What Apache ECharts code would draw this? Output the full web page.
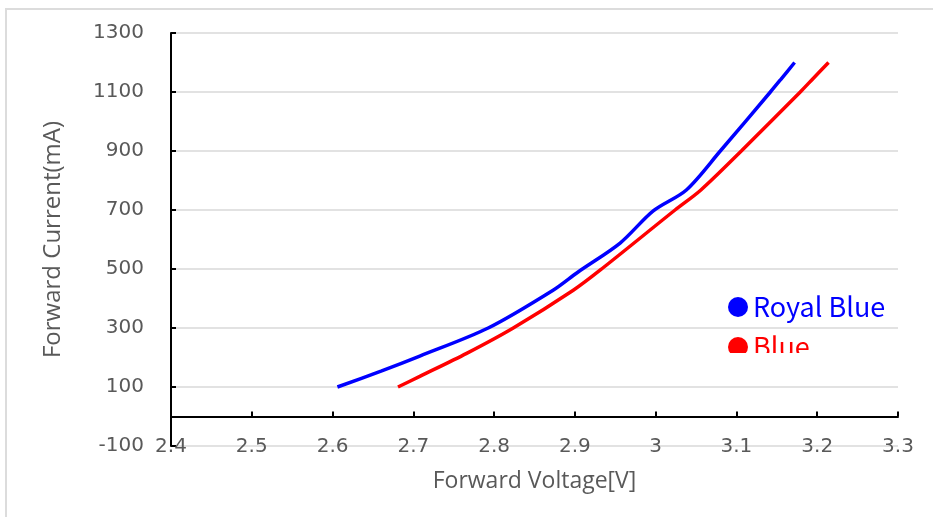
<!DOCTYPE html>
<html>
<head>
<meta charset="utf-8">
<script src="https://cdn.jsdelivr.net/npm/echarts@6/dist/echarts.min.js"></script>
<style>
html,body{margin:0;padding:0;background:#fff;overflow:hidden;}
#c{width:933px;height:517px;}
</style>
</head>
<body>
<div id="c"></div>
<script>
// Data
var royalBlueName = 'Royal Blue';
var blueName = 'Blue';
var royalBlue = [
  [2.606, 100], [2.66, 154], [2.708, 205], [2.7927, 300],
  [2.873, 428], [2.904, 490], [2.956, 588], [2.997, 697], [3.038, 768],
  [3.08, 900], [3.142, 1100], [3.155, 1143], [3.172, 1200]
];
var blue = [
  [2.681, 100], [2.708, 136], [2.766, 214], [2.8237, 300], [2.898, 428],
  [2.933, 500], [3.024, 700], [3.056, 768], [3.106, 900], [3.179, 1100],
  [3.195, 1146], [3.214, 1200]
];
var xMin = 2.4, xMax = 3.3, xStep = 0.1;
var yMin = -100, yMax = 1300, yStep = 200;
var xTitle = 'Forward Voltage[V]';
var yTitle = 'Forward Current(mA)';

var chart = echarts.init(document.getElementById('c'), null, {renderer: 'canvas'});
var tickFont = {fontFamily: 'DejaVu Sans', fontSize: 20, color: '#595959'};
chart.setOption({
  animation: false,
  backgroundColor: '#ffffff',
  grid: {left: 171, right: 35, top: 33, bottom: 71, containLabel: false, outerBoundsMode: 'none'},
  xAxis: {
    type: 'value', min: xMin, max: xMax, interval: xStep,
    axisLine: {show: true, onZero: true, lineStyle: {color: '#000', width: 2}},
    axisTick: {show: true, inside: true, length: 5, lineStyle: {color: '#000', width: 2}},
    axisLabel: Object.assign({margin: -9, formatter: function (v) { return String(Math.round(v * 10) / 10); }}, tickFont),
    splitLine: {show: false},
    name: xTitle, nameLocation: 'middle', nameGap: 24, nameMoveOverlap: false,
    nameTextStyle: {fontFamily: 'Open Sans', fontSize: 23, color: '#595959'}
  },
  yAxis: {
    type: 'value', min: yMin, max: yMax, interval: yStep,
    axisLine: {show: true, onZero: false, lineStyle: {color: '#000', width: 2}},
    axisTick: {show: true, inside: true, length: 5, lineStyle: {color: '#000', width: 2}},
    axisLabel: Object.assign({margin: 27, formatter: function (v) { return String(v); }}, tickFont),
    splitLine: {show: true, lineStyle: {color: '#d9d9d9', width: 1.5}},
    name: yTitle, nameLocation: 'middle', nameGap: 106, nameRotate: 90, nameMoveOverlap: false,
    nameTextStyle: {fontFamily: 'Open Sans', fontSize: 24, color: '#595959'}
  },
  legend: {
    orient: 'vertical', left: 728, top: 292, padding: 0,
    itemWidth: 20, itemHeight: 20, itemGap: 10, icon: 'circle',
    textStyle: {fontFamily: 'Noto Sans CJK SC', fontSize: 27, lineHeight: 30},
    data: [
      {name: royalBlueName, textStyle: {color: '#0000ff'}},
      {name: blueName, textStyle: {color: '#ff0000'}}
    ]
  },
  graphic: [
    {type: 'rect', z: 100, shape: {x: 715, y: 353, width: 130, height: 28}, style: {fill: '#ffffff'}},
    {type: 'rect', z: 100, shape: {x: 6, y: 9, width: 1000, height: 1000}, style: {fill: 'none', stroke: '#dcdcdc', lineWidth: 2}}
  ],
  series: [
    {name: royalBlueName, type: 'line', data: royalBlue, smooth: 0.3, showSymbol: false,
     lineStyle: {color: '#0000ff', width: 3.5}, itemStyle: {color: '#0000ff'}},
    {name: blueName, type: 'line', data: blue, smooth: 0.3, showSymbol: false,
     lineStyle: {color: '#ff0000', width: 3.5}, itemStyle: {color: '#ff0000'}}
  ]
});
</script>
</body>
</html>
